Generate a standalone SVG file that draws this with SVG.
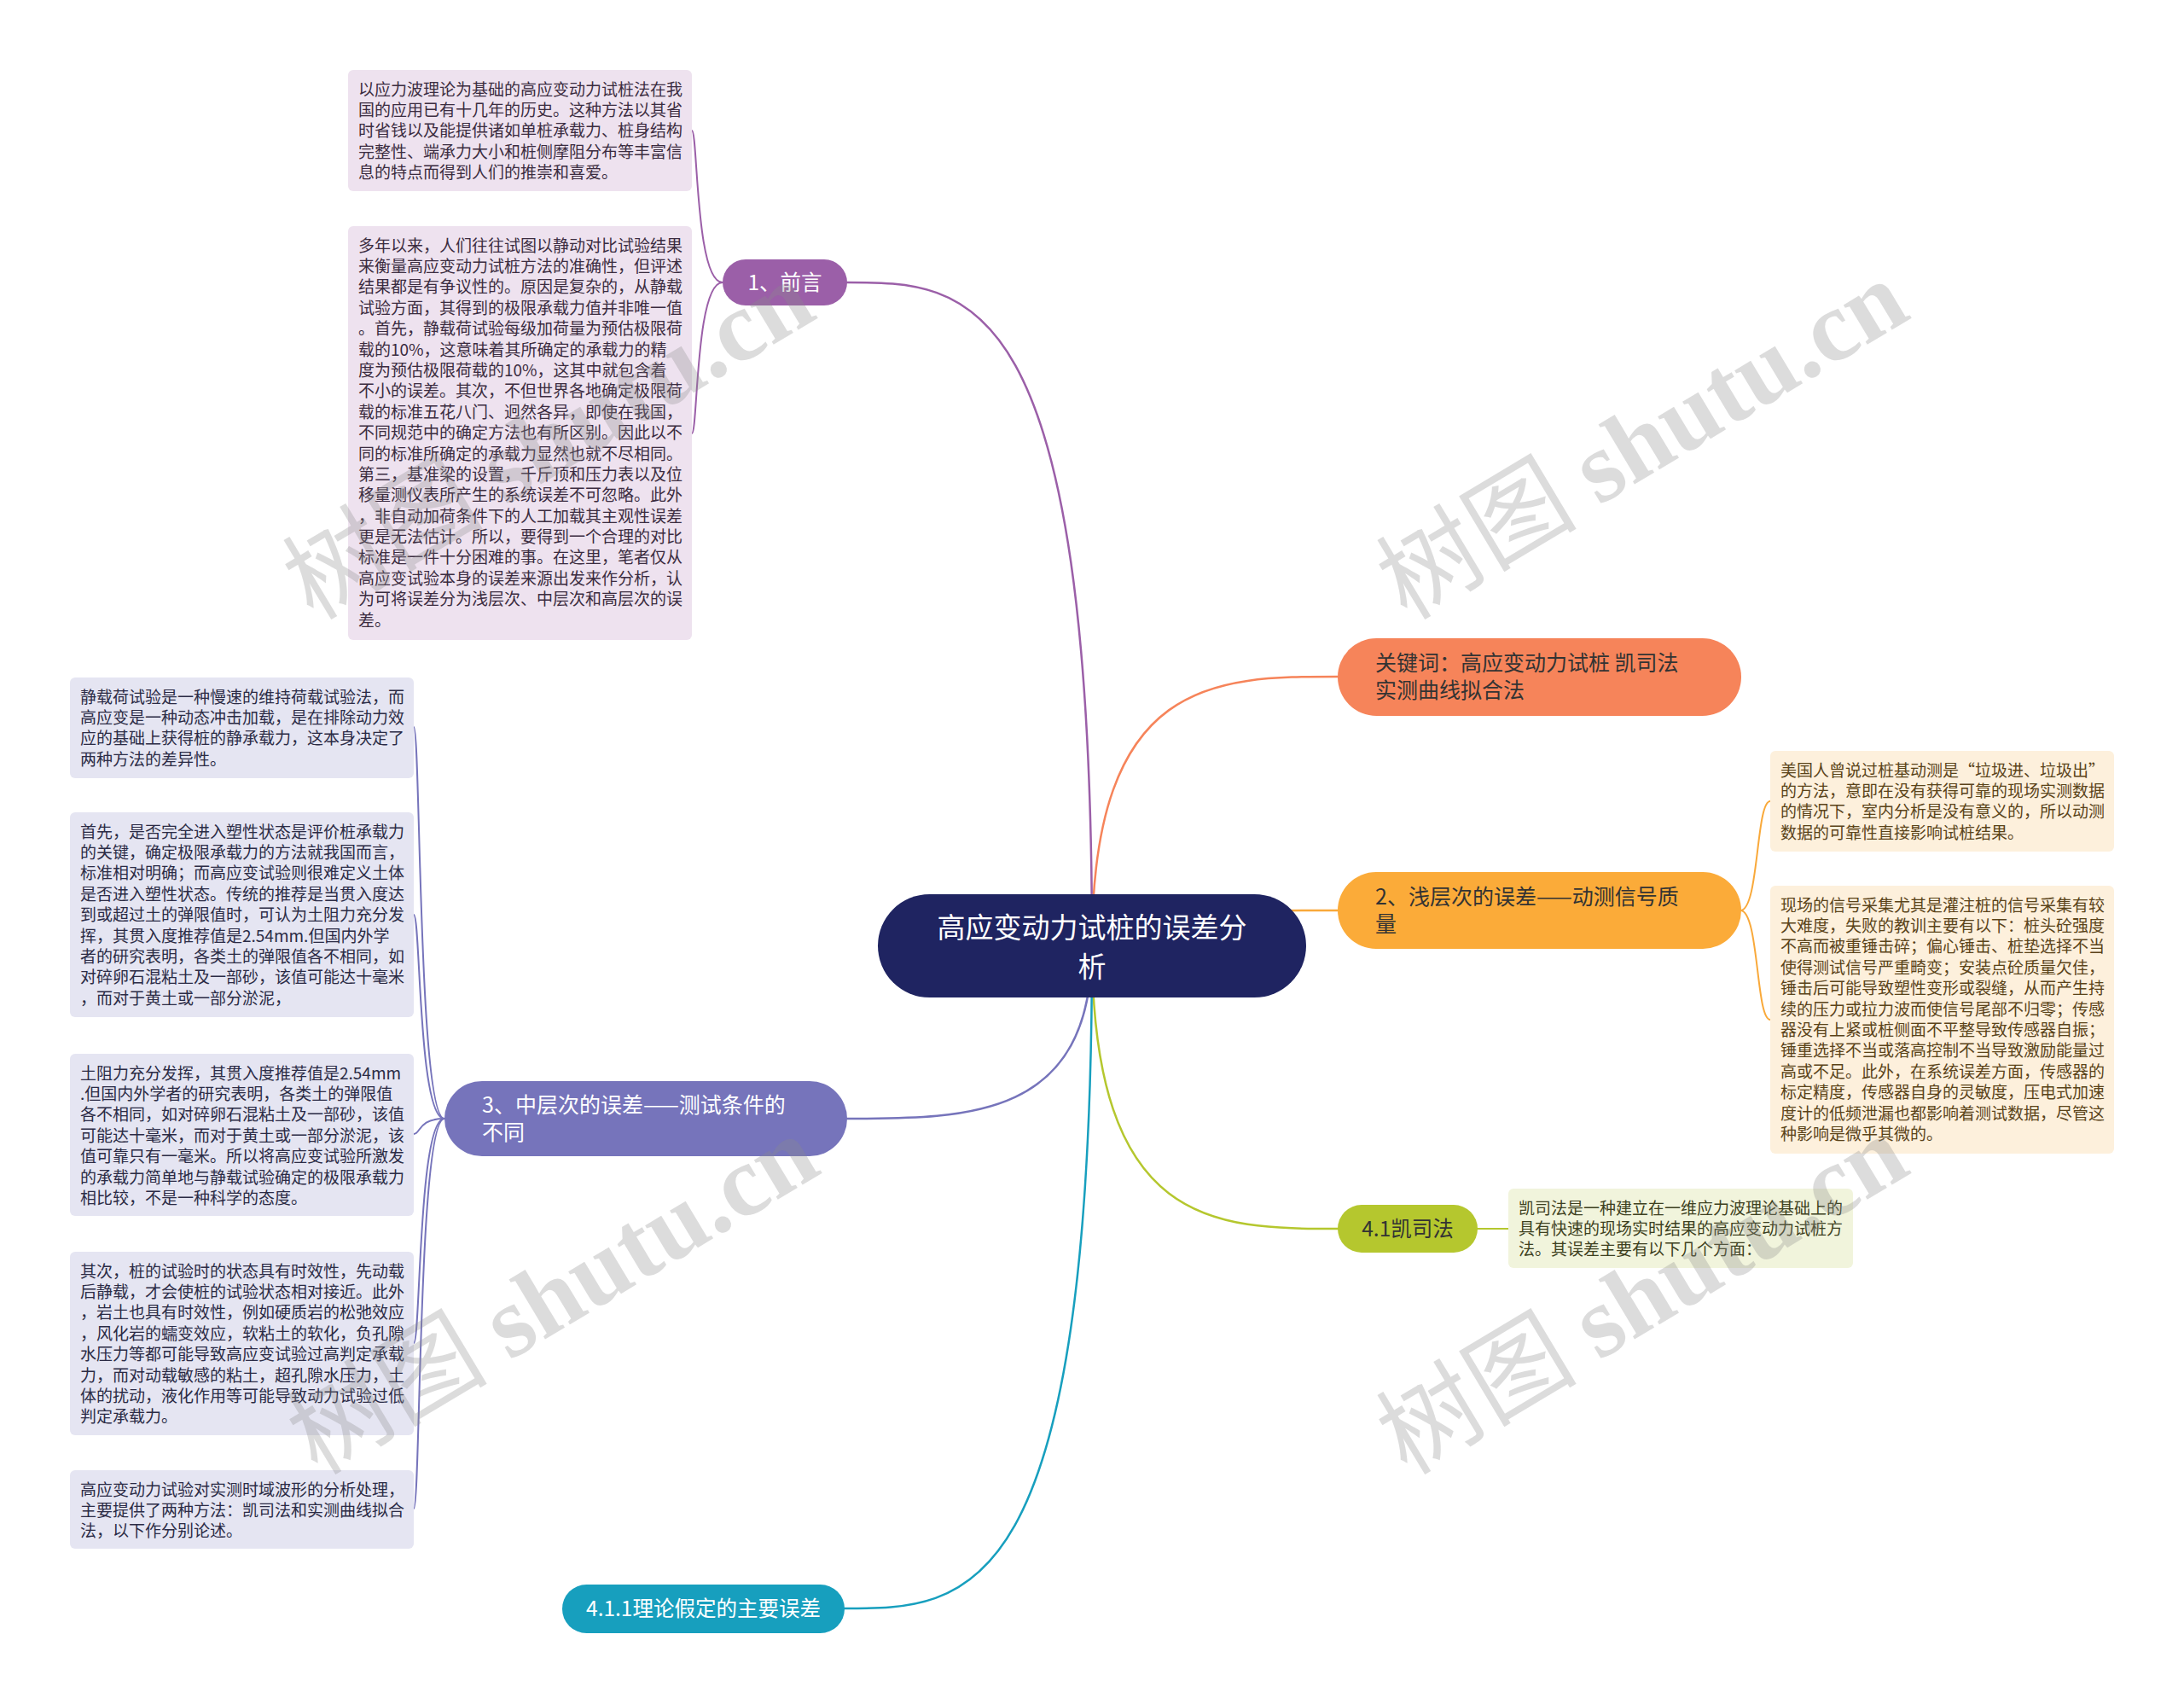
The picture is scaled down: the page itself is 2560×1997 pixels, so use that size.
<svg xmlns="http://www.w3.org/2000/svg" width="2560" height="1997" viewBox="0 0 2560 1997">
<style>
text{font-family:"Noto Sans CJK SC","Noto Sans",sans-serif}
.bt{font-size:19px}
.nt{font-size:24.5px}
.nl{font-size:25px}
.w{fill:#ffffff}
.d{fill:#333333}
.tp{fill:#3b2c40}
.tl{fill:#2b2b45}
.to{fill:#5a4319}
.tg{fill:#3d4020}
.c{fill:none;stroke-linecap:round}
.wm{font-size:118px;fill:#8a8a8a;fill-opacity:0.3}
</style>
<rect width="2560" height="1997" fill="#ffffff"/>
<g id="connectors">
<path class="c" stroke="#9b5fa8" stroke-width="2.5" d="M1280,1108 C1280,331 1136,331 993,331"/>
<path class="c" stroke="#f6845a" stroke-width="2.5" d="M1280,1108 C1280,793 1424,793 1568,793"/>
<path class="c" stroke="#f9a93a" stroke-width="2.5" d="M1280,1108 C1280,1067 1424,1067 1568,1067"/>
<path class="c" stroke="#7674bb" stroke-width="2.5" d="M1280,1108 C1280,1311 1136,1311 993,1311"/>
<path class="c" stroke="#b5c72e" stroke-width="2.5" d="M1280,1108 C1280,1440 1424,1440 1568,1440"/>
<path class="c" stroke="#179fbe" stroke-width="2.5" d="M1280,1108 C1280,1885 1135,1885 990,1885"/>
<path class="c" stroke="#9b5fa8" stroke-width="2" d="M847,331 C815,331 818,153 811,153"/>
<path class="c" stroke="#9b5fa8" stroke-width="2" d="M847,331 C815,331 818,508 811,508"/>
<path class="c" stroke="#f9a93a" stroke-width="2" d="M2040,1067 C2062,1067 2058,939 2075,939"/>
<path class="c" stroke="#f9a93a" stroke-width="2" d="M2040,1067 C2062,1067 2058,1195 2075,1195"/>
<path class="c" stroke="#7674bb" stroke-width="2" d="M521,1311 C490,1311 493,852 485,852"/>
<path class="c" stroke="#7674bb" stroke-width="2" d="M521,1311 C490,1311 493,1072 485,1072"/>
<path class="c" stroke="#7674bb" stroke-width="2" d="M521,1311 C490,1311 493,1329 485,1329"/>
<path class="c" stroke="#7674bb" stroke-width="2" d="M521,1311 C490,1311 493,1574 485,1574"/>
<path class="c" stroke="#7674bb" stroke-width="2" d="M521,1311 C490,1311 493,1768 485,1768"/>
<path class="c" stroke="#b5c72e" stroke-width="2" d="M1731,1440 L1768,1440"/>
</g>
<g id="root">
<rect x="1029" y="1048" width="502" height="121" rx="60.5" fill="#1f2461"/>
<text class="w" font-size="33" text-anchor="middle"><tspan x="1280" y="1098.5">高应变动力试桩的误差分</tspan><tspan x="1280" y="1144.5">析</tspan></text>
</g>
<g id="n1">
<rect x="847" y="304" width="146" height="54" rx="27" fill="#9b5fa8"/>
<text class="nt w" x="920" y="339.5" text-anchor="middle">1、前言</text>
</g>
<g id="n1a">
<rect x="408" y="82" width="403" height="142" rx="6" fill="#eee2ef"/>
<text class="bt tp"><tspan x="420" y="111.5">以应力波理论为基础的高应变动力试桩法在我</tspan><tspan x="420" dy="24.4">国的应用已有十几年的历史。这种方法以其省</tspan><tspan x="420" dy="24.4">时省钱以及能提供诸如单桩承载力、桩身结构</tspan><tspan x="420" dy="24.4">完整性、端承力大小和桩侧摩阻分布等丰富信</tspan><tspan x="420" dy="24.4">息的特点而得到人们的推崇和喜爱。</tspan></text>
</g>
<g id="n1b">
<rect x="408" y="265" width="403" height="485" rx="6" fill="#eee2ef"/>
<text class="bt tp"><tspan x="420" y="294.5">多年以来，人们往往试图以静动对比试验结果</tspan><tspan x="420" dy="24.4">来衡量高应变动力试桩方法的准确性，但评述</tspan><tspan x="420" dy="24.4">结果都是有争议性的。原因是复杂的，从静载</tspan><tspan x="420" dy="24.4">试验方面，其得到的极限承载力值并非唯一值</tspan><tspan x="420" dy="24.4">。首先，静载荷试验每级加荷量为预估极限荷</tspan><tspan x="420" dy="24.4">载的10%，这意味着其所确定的承载力的精</tspan><tspan x="420" dy="24.4">度为预估极限荷载的10%，这其中就包含着</tspan><tspan x="420" dy="24.4">不小的误差。其次，不但世界各地确定极限荷</tspan><tspan x="420" dy="24.4">载的标准五花八门、迥然各异，即使在我国，</tspan><tspan x="420" dy="24.4">不同规范中的确定方法也有所区别。因此以不</tspan><tspan x="420" dy="24.4">同的标准所确定的承载力显然也就不尽相同。</tspan><tspan x="420" dy="24.4">第三，基准梁的设置，千斤顶和压力表以及位</tspan><tspan x="420" dy="24.4">移量测仪表所产生的系统误差不可忽略。此外</tspan><tspan x="420" dy="24.4">，非自动加荷条件下的人工加载其主观性误差</tspan><tspan x="420" dy="24.4">更是无法估计。所以，要得到一个合理的对比</tspan><tspan x="420" dy="24.4">标准是一件十分困难的事。在这里，笔者仅从</tspan><tspan x="420" dy="24.4">高应变试验本身的误差来源出发来作分析，认</tspan><tspan x="420" dy="24.4">为可将误差分为浅层次、中层次和高层次的误</tspan><tspan x="420" dy="24.4">差。</tspan></text>
</g>
<g id="kw">
<rect x="1568" y="748" width="473" height="91" rx="45.5" fill="#f6845a"/>
<text class="nl d"><tspan x="1612" y="785.5">关键词：高应变动力试桩 凯司法</tspan><tspan x="1612" y="817.5">实测曲线拟合法</tspan></text>
</g>
<g id="n2">
<rect x="1568" y="1022" width="473" height="90" rx="45" fill="#fbab39"/>
<text class="nl d"><tspan x="1612" y="1059.5">2、浅层次的误差——动测信号质</tspan><tspan x="1612" y="1091.5">量</tspan></text>
</g>
<g id="n2a">
<rect x="2075" y="880" width="403" height="118" rx="6" fill="#fdf0dc"/>
<text class="bt to"><tspan x="2087" y="909.5">美国人曾说过桩基动测是“垃圾进、垃圾出”</tspan><tspan x="2087" dy="24.4">的方法，意即在没有获得可靠的现场实测数据</tspan><tspan x="2087" dy="24.4">的情况下，室内分析是没有意义的，所以动测</tspan><tspan x="2087" dy="24.4">数据的可靠性直接影响试桩结果。</tspan></text>
</g>
<g id="n2b">
<rect x="2075" y="1038" width="403" height="314" rx="6" fill="#fdf0dc"/>
<text class="bt to"><tspan x="2087" y="1067.5">现场的信号采集尤其是灌注桩的信号采集有较</tspan><tspan x="2087" dy="24.4">大难度，失败的教训主要有以下：桩头砼强度</tspan><tspan x="2087" dy="24.4">不高而被重锤击碎；偏心锤击、桩垫选择不当</tspan><tspan x="2087" dy="24.4">使得测试信号严重畸变；安装点砼质量欠佳，</tspan><tspan x="2087" dy="24.4">锤击后可能导致塑性变形或裂缝，从而产生持</tspan><tspan x="2087" dy="24.4">续的压力或拉力波而使信号尾部不归零；传感</tspan><tspan x="2087" dy="24.4">器没有上紧或桩侧面不平整导致传感器自振；</tspan><tspan x="2087" dy="24.4">锤重选择不当或落高控制不当导致激励能量过</tspan><tspan x="2087" dy="24.4">高或不足。此外，在系统误差方面，传感器的</tspan><tspan x="2087" dy="24.4">标定精度，传感器自身的灵敏度，压电式加速</tspan><tspan x="2087" dy="24.4">度计的低频泄漏也都影响着测试数据，尽管这</tspan><tspan x="2087" dy="24.4">种影响是微乎其微的。</tspan></text>
</g>
<g id="n3">
<rect x="521" y="1267" width="472" height="88" rx="44" fill="#7674bb"/>
<text class="nl w"><tspan x="565" y="1303.5">3、中层次的误差——测试条件的</tspan><tspan x="565" y="1335.5">不同</tspan></text>
</g>
<g id="n3a">
<rect x="82" y="794" width="403" height="118" rx="6" fill="#e5e5f2"/>
<text class="bt tl"><tspan x="94" y="823.5">静载荷试验是一种慢速的维持荷载试验法，而</tspan><tspan x="94" dy="24.4">高应变是一种动态冲击加载，是在排除动力效</tspan><tspan x="94" dy="24.4">应的基础上获得桩的静承载力，这本身决定了</tspan><tspan x="94" dy="24.4">两种方法的差异性。</tspan></text>
</g>
<g id="n3b">
<rect x="82" y="952" width="403" height="240" rx="6" fill="#e5e5f2"/>
<text class="bt tl"><tspan x="94" y="981.5">首先，是否完全进入塑性状态是评价桩承载力</tspan><tspan x="94" dy="24.4">的关键，确定极限承载力的方法就我国而言，</tspan><tspan x="94" dy="24.4">标准相对明确；而高应变试验则很难定义土体</tspan><tspan x="94" dy="24.4">是否进入塑性状态。传统的推荐是当贯入度达</tspan><tspan x="94" dy="24.4">到或超过土的弹限值时，可认为土阻力充分发</tspan><tspan x="94" dy="24.4">挥，其贯入度推荐值是2.54mm.但国内外学</tspan><tspan x="94" dy="24.4">者的研究表明，各类土的弹限值各不相同，如</tspan><tspan x="94" dy="24.4">对碎卵石混粘土及一部砂，该值可能达十毫米</tspan><tspan x="94" dy="24.4">，而对于黄土或一部分淤泥，</tspan></text>
</g>
<g id="n3c">
<rect x="82" y="1235" width="403" height="190" rx="6" fill="#e5e5f2"/>
<text class="bt tl"><tspan x="94" y="1264.5">土阻力充分发挥，其贯入度推荐值是2.54mm</tspan><tspan x="94" dy="24.4">.但国内外学者的研究表明，各类土的弹限值</tspan><tspan x="94" dy="24.4">各不相同，如对碎卵石混粘土及一部砂，该值</tspan><tspan x="94" dy="24.4">可能达十毫米，而对于黄土或一部分淤泥，该</tspan><tspan x="94" dy="24.4">值可靠只有一毫米。所以将高应变试验所激发</tspan><tspan x="94" dy="24.4">的承载力简单地与静载试验确定的极限承载力</tspan><tspan x="94" dy="24.4">相比较，不是一种科学的态度。</tspan></text>
</g>
<g id="n3d">
<rect x="82" y="1467" width="403" height="215" rx="6" fill="#e5e5f2"/>
<text class="bt tl"><tspan x="94" y="1496.5">其次，桩的试验时的状态具有时效性，先动载</tspan><tspan x="94" dy="24.4">后静载，才会使桩的试验状态相对接近。此外</tspan><tspan x="94" dy="24.4">，岩土也具有时效性，例如硬质岩的松弛效应</tspan><tspan x="94" dy="24.4">，风化岩的蠕变效应，软粘土的软化，负孔隙</tspan><tspan x="94" dy="24.4">水压力等都可能导致高应变试验过高判定承载</tspan><tspan x="94" dy="24.4">力，而对动载敏感的粘土，超孔隙水压力，土</tspan><tspan x="94" dy="24.4">体的扰动，液化作用等可能导致动力试验过低</tspan><tspan x="94" dy="24.4">判定承载力。</tspan></text>
</g>
<g id="n3e">
<rect x="82" y="1723" width="403" height="92" rx="6" fill="#e5e5f2"/>
<text class="bt tl"><tspan x="94" y="1752.5">高应变动力试验对实测时域波形的分析处理，</tspan><tspan x="94" dy="24.4">主要提供了两种方法：凯司法和实测曲线拟合</tspan><tspan x="94" dy="24.4">法，以下作分别论述。</tspan></text>
</g>
<g id="n4">
<rect x="1568" y="1412" width="164" height="56" rx="28" fill="#b5c72e"/>
<text class="nt d" x="1650" y="1448.5" text-anchor="middle">4.1凯司法</text>
</g>
<g id="n4a">
<rect x="1768" y="1393" width="404" height="93" rx="6" fill="#f1f4dc"/>
<text class="bt tg"><tspan x="1780" y="1422.5">凯司法是一种建立在一维应力波理论基础上的</tspan><tspan x="1780" dy="24.4">具有快速的现场实时结果的高应变动力试桩方</tspan><tspan x="1780" dy="24.4">法。其误差主要有以下几个方面：</tspan></text>
</g>
<g id="n5">
<rect x="659" y="1857" width="331" height="57" rx="28.5" fill="#179fbe"/>
<text class="nt w" x="824.5" y="1894" text-anchor="middle">4.1.1理论假定的主要误差</text>
</g>
<g id="watermark">
<text class="wm" transform="rotate(-31 645 519)" x="645" y="555" text-anchor="middle">树图 <tspan font-family="Liberation Serif" font-weight="bold">shutu.cn</tspan></text>
<text class="wm" transform="rotate(-31 1927 519)" x="1927" y="555" text-anchor="middle">树图 <tspan font-family="Liberation Serif" font-weight="bold">shutu.cn</tspan></text>
<text class="wm" transform="rotate(-31 650 1521)" x="650" y="1557" text-anchor="middle">树图 <tspan font-family="Liberation Serif" font-weight="bold">shutu.cn</tspan></text>
<text class="wm" transform="rotate(-31 1927 1521)" x="1927" y="1557" text-anchor="middle">树图 <tspan font-family="Liberation Serif" font-weight="bold">shutu.cn</tspan></text>
</g>
</svg>
